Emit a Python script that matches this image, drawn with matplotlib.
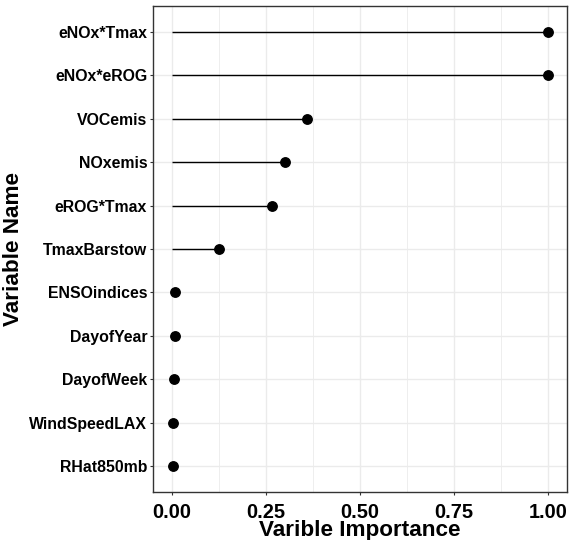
import matplotlib
matplotlib.use('Agg')
import matplotlib.pyplot as plt
import numpy as np

# variable importance, bottom to top as drawn
variables = ['RHat850mb', 'WindSpeedLAX', 'DayofWeek', 'DayofYear', 'ENSOindices',
             'TmaxBarstow', 'eROG*Tmax', 'NOxemis', 'VOCemis', 'eNOx*eROG', 'eNOx*Tmax']
importance = [0.003, 0.003, 0.0045, 0.009, 0.0095,
              0.125, 0.266, 0.30, 0.359, 1.0, 1.0]

plt.rcParams['font.family'] = ['Liberation Sans', 'DejaVu Sans']
plt.rcParams['font.weight'] = 'bold'

fig = plt.figure(figsize=(5.73, 5.40), dpi=100)
ax = fig.add_axes([0.267, 0.0889, 0.7225, 0.9])

y = np.arange(1, len(variables) + 1)
ax.hlines(y, 0, importance, color='black', linewidth=1.0, zorder=3)
ax.plot(importance, y, 'o', color='black', markersize=6.8, zorder=4)

ax.set_xlim(-0.05, 1.05)
ax.set_ylim(0.4, len(variables) + 0.6)
ax.set_yticks(y)
ax.set_yticklabels(variables)
ax.set_xticks([0, 0.25, 0.5, 0.75, 1.0])
ax.set_xticklabels(['0.00', '0.25', '0.50', '0.75', '1.00'])
ax.set_xticks([0.125, 0.375, 0.625, 0.875], minor=True)

ax.grid(which='major', color='#ebebeb', linewidth=1.0, zorder=0)
ax.grid(which='minor', axis='x', color='#ebebeb', linewidth=0.6, zorder=0)
ax.set_axisbelow(True)

for s in ax.spines.values():
    s.set_color('#333333')
    s.set_linewidth(1.0)

ax.tick_params(axis='y', which='major', length=2.2, width=0.8, color='#333333',
               labelsize=11.4, pad=2, labelcolor='black')
ax.tick_params(axis='x', which='major', length=2.2, width=0.8, color='#333333',
               labelsize=14.4, pad=5.5, labelcolor='black')
ax.tick_params(axis='x', which='minor', length=0)

ax.set_xlabel('Varible Importance', fontsize=16.2, fontweight='bold', labelpad=-1)
ax.set_ylabel('Variable Name', fontsize=16.2, fontweight='bold', labelpad=3.5)

fig.savefig('out.png', dpi=100)
